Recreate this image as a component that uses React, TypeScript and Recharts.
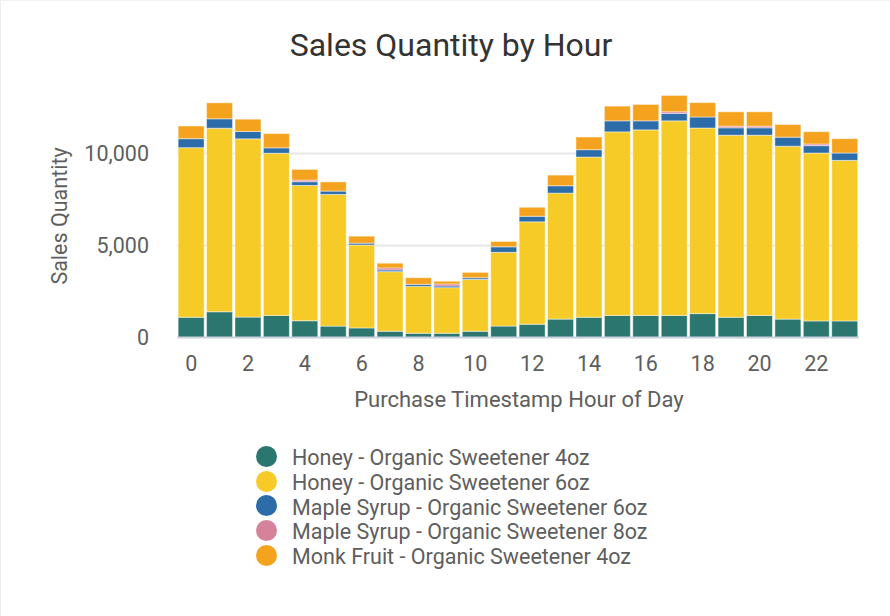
import { BarChart, Bar, XAxis, YAxis, CartesianGrid } from "recharts";

// hourly sales per product, stacked bottom to top in this order
const hours = [0, 1, 2, 3, 4, 5, 6, 7, 8, 9, 10, 11, 12, 13, 14, 15, 16, 17, 18, 19, 20, 21, 22, 23];
const honey4oz = [1100, 1400, 1110, 1200, 910, 620, 520, 340, 230, 230, 340, 620, 720, 1000, 1100, 1200, 1200, 1200, 1300, 1100, 1200, 1000, 900, 900];
const honey6oz = [9220, 9980, 9690, 8820, 7360, 7160, 4510, 3240, 2550, 2480, 2820, 4010, 5570, 6850, 8710, 9980, 10090, 10580, 10090, 9900, 9800, 9400, 9130, 8730];
const maple6oz = [490, 510, 400, 290, 200, 180, 100, 90, 110, 90, 90, 300, 300, 400, 400, 600, 490, 400, 600, 400, 400, 490, 400, 400];
const maple8oz = [0, 0, 0, 0, 90, 0, 0, 110, 0, 110, 0, 0, 0, 0, 0, 0, 0, 90, 0, 90, 90, 0, 90, 0];
const monk4oz = [690, 870, 670, 780, 580, 500, 380, 260, 360, 150, 290, 290, 490, 580, 690, 800, 890, 890, 780, 780, 780, 690, 670, 780];
const yTicks = [0, 5000, 10000];
const gridValues = [5000, 10000];

const series = [
  { key: "honey4", name: "Honey - Organic Sweetener 4oz", color: "#2b766f", values: honey4oz },
  { key: "honey6", name: "Honey - Organic Sweetener 6oz", color: "#f6cb28", values: honey6oz },
  { key: "maple6", name: "Maple Syrup - Organic Sweetener 6oz", color: "#2c6ca9", values: maple6oz },
  { key: "maple8", name: "Maple Syrup - Organic Sweetener 8oz", color: "#d5829a", values: maple8oz },
  { key: "monk4", name: "Monk Fruit - Organic Sweetener 4oz", color: "#f5a31f", values: monk4oz },
];

const rows = hours.map((h, i) => {
  const row: Record<string, number> = { hour: h };
  series.forEach((s) => (row[s.key] = s.values[i]));
  return row;
});

const FONT = "Roboto, 'Noto Sans', sans-serif";
const TEXT = "#5e5e5e";

export default function App() {
  return (
    <div
      style={{
        position: "absolute",
        left: 0,
        top: 0,
        width: 890,
        height: 616,
        background: "#fff",
        fontFamily: FONT,
        borderLeft: "1px solid #ececec",
        borderTop: "1px solid #f2f2f2",
        boxSizing: "border-box",
        overflow: "hidden",
      }}
    >
      <div
        style={{
          position: "absolute",
          left: 0,
          width: 900,
          top: 28,
          lineHeight: 1,
          textAlign: "center",
          fontSize: 32,
          color: "#333",
        }}
      >
        Sales Quantity by Hour
      </div>
      <div style={{ position: "absolute", left: 0, top: 0 }}>
        <BarChart
          width={890}
          height={616}
          data={rows}
          margin={{ top: 79, right: 32, left: 0, bottom: 249.5 }}
          barCategoryGap="4%"
        >
          <CartesianGrid vertical={false} horizontalValues={gridValues} stroke="#e7e7e7" strokeWidth={2} />
          <XAxis
            dataKey="hour"
            interval={1}
            height={30}
            tickSize={0}
            tickMargin={18}
            tick={{ fontSize: 21.5, fill: TEXT, fontFamily: FONT }}
            axisLine={{ stroke: "#c9d2de", strokeWidth: 2 }}
          />
          <YAxis
            width={176}
            domain={[0, 14000]}
            ticks={yTicks}
            tickSize={0}
            tickMargin={28}
            axisLine={false}
            tick={{ fontSize: 21.5, fill: TEXT, fontFamily: FONT }}
            tickFormatter={(v: number) => v.toLocaleString("en-US")}
          />
          {series.map((s) => (
            <Bar
              key={s.key}
              dataKey={s.key}
              name={s.name}
              stackId="qty"
              fill={s.color}
              stroke="rgba(255,255,255,0.45)"
              strokeWidth={1}
              isAnimationActive={false}
            />
          ))}
        </BarChart>
      </div>
      <div
        style={{
          position: "absolute",
          left: 58,
          top: 215,
          transform: "translate(-50%, -50%) rotate(-90deg)",
          fontSize: 21.5,
          color: TEXT,
          whiteSpace: "nowrap",
        }}
      >
        Sales Quantity
      </div>
      <div
        style={{
          position: "absolute",
          left: 518,
          top: 388,
          lineHeight: 1,
          transform: "translateX(-50%)",
          fontSize: 22,
          color: TEXT,
          whiteSpace: "nowrap",
        }}
      >
        Purchase Timestamp Hour of Day
      </div>
      <div style={{ position: "absolute", left: 255, top: 445 }}>
        {series.map((s) => (
          <div key={s.key} style={{ display: "flex", alignItems: "center", height: 24.8 }}>
            <span
              style={{
                width: 21,
                height: 21,
                borderRadius: "50%",
                background: s.color,
                marginRight: 15,
                flexShrink: 0,
                position: "relative",
                top: -2,
              }}
            />
            <span style={{ fontSize: 21.5, lineHeight: "24.8px", color: TEXT, whiteSpace: "nowrap" }}>
              {s.name}
            </span>
          </div>
        ))}
      </div>
    </div>
  );
}
